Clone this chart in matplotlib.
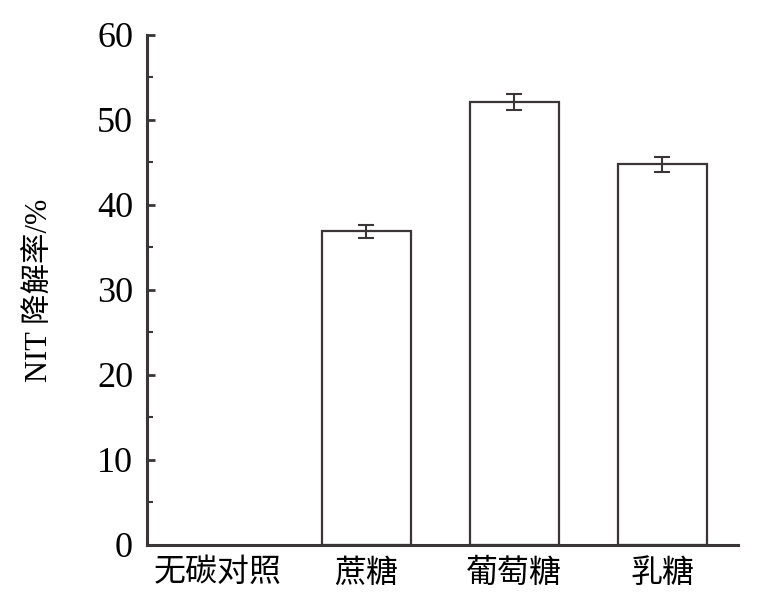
import numpy as np
import matplotlib
matplotlib.use('Agg')
import matplotlib.pyplot as plt
from matplotlib.ticker import MultipleLocator

plt.rcParams['font.family'] = ['Liberation Serif', 'Noto Sans CJK SC']

# data
labels = ['无碳对照', '蔗糖', '葡萄糖', '乳糖']
rates = [0, 36.9, 52.1, 44.8]
errs = [0, 0.8, 0.9, 0.9]

fig = plt.figure(figsize=(7.68, 6.01), dpi=100)
ax = fig.add_axes([0.1914, 0.0932, 0.7696, 0.8486])

x = np.arange(len(labels))
col = '#3a3536'
ax.bar(x[1:], rates[1:], width=0.6, color='white', edgecolor=col, linewidth=1.6)
ax.errorbar(x[1:], rates[1:], yerr=errs[1:], fmt='none', ecolor=col,
            elinewidth=1.5, capsize=6, capthick=1.5)

ax.set_xlim(-0.48, 3.51)
ax.set_ylim(0, 60)
ax.set_xticks(x)
ax.set_xticklabels(labels, fontsize=23)
ax.yaxis.set_major_locator(MultipleLocator(10))
ax.yaxis.set_minor_locator(MultipleLocator(5))
ax.tick_params(axis='y', which='major', direction='in', length=6, width=2,
               color=col, labelsize=26, pad=10)
ax.tick_params(axis='y', which='minor', direction='in', length=4, width=1.5,
               color=col)
ax.tick_params(axis='x', length=0, pad=10)

for s in ['top', 'right']:
    ax.spines[s].set_visible(False)
for s in ['left', 'bottom']:
    ax.spines[s].set_linewidth(2.2)
    ax.spines[s].set_color(col)

ax.set_ylabel('NIT 降解率/%', fontsize=22, labelpad=30)

fig.savefig('out.png', dpi=100, facecolor='white')
